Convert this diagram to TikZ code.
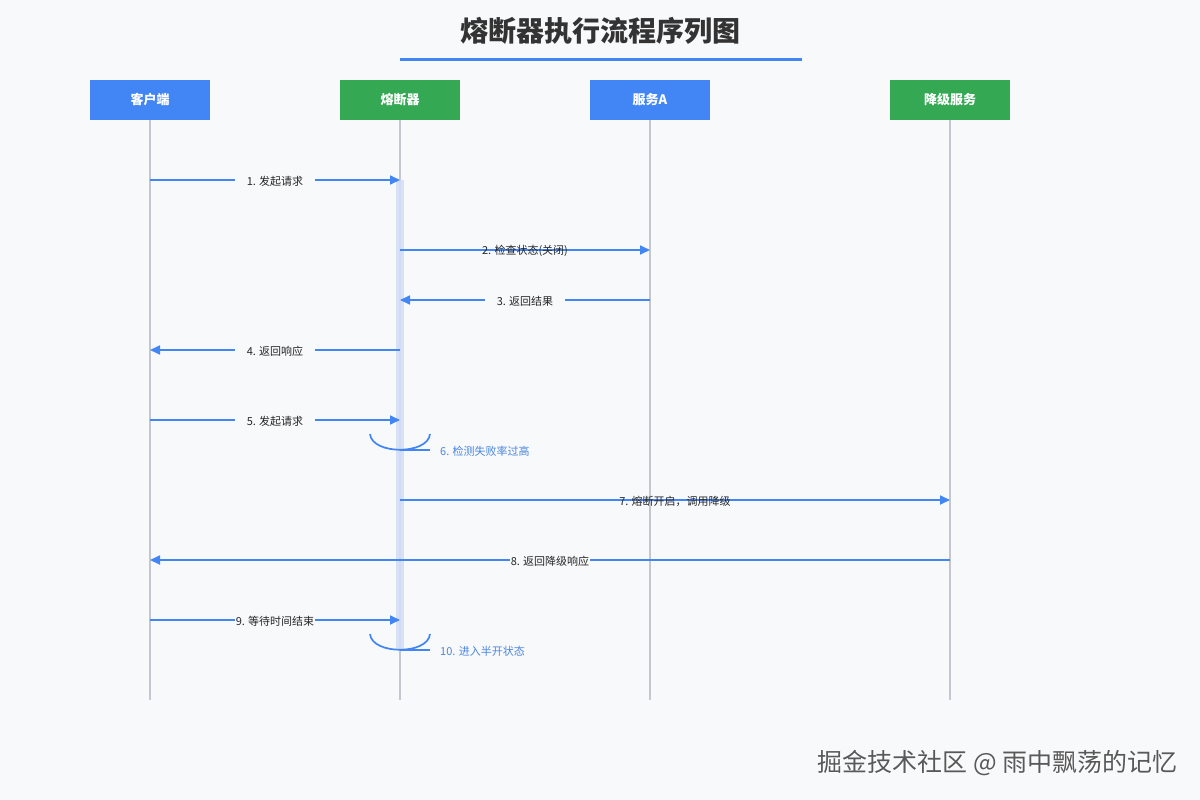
\documentclass[tikz,border=0pt]{standalone}
\usepackage{fontspec}
\setmainfont{Noto Sans CJK SC}
\usetikzlibrary{arrows.meta,calc}
\definecolor{bg}{HTML}{F8F9FB}
\definecolor{gblue}{HTML}{4285F4}
\definecolor{ggreen}{HTML}{34A853}
\definecolor{lgrey}{HTML}{C4C8CE}
\definecolor{actbar}{HTML}{D3DEF6}
\definecolor{titlec}{HTML}{333333}
\definecolor{notec}{HTML}{4A86E0}
\tikzset{
  actor/.style={minimum width=120pt,minimum height=40pt,inner sep=0pt,text=white,font=\fontsize{13}{15}\selectfont\bfseries},
  lifeline/.style={draw=lgrey,line width=2pt},
  msg/.style={draw=gblue,line width=1.7pt,-{Triangle[length=10pt,width=9pt]}},
  msglabel/.style={font=\fontsize{11}{12}\selectfont,text=black!85,fill=bg,inner sep=0pt,inner xsep=12pt,inner ysep=2pt,yshift=-1.5pt},
  msglabeltight/.style={font=\fontsize{11}{12}\selectfont,text=black!85,fill=bg,inner sep=1pt,yshift=-1pt},
  msglabelnofill/.style={font=\fontsize{11}{12}\selectfont,text=black!85,inner sep=0pt,yshift=-1pt},
  selfloop/.style={draw=gblue,line width=1.7pt},
  notelabel/.style={font=\fontsize{11}{12}\selectfont,text=notec,anchor=west,inner sep=0pt},
  watermark/.style={font=\fontsize{25}{28}\selectfont,anchor=east,inner sep=0pt}
}
\begin{document}
\begin{tikzpicture}[x=1pt,y=-1pt]
\useasboundingbox (0,0) rectangle (1200,800);
\fill[bg] (0,0) rectangle (1200,800);
% title
\node[font=\fontsize{28}{31}\selectfont\bfseries,text=titlec] (title) at (600,31) {熔断器执行流程序列图};
\coordinate (ulL) at (400,60);
\coordinate (ulR) at (802,60);
\draw[gblue,line width=3pt] (ulL) -- (ulR);
% actors
\node[actor,fill=gblue] (client) at (150,100) {客户端};
\node[actor,fill=ggreen] (cb) at (400,100) {熔断器};
\node[actor,fill=gblue] (svc) at (650,100) {服务A};
\node[actor,fill=ggreen] (fb) at (950,100) {降级服务};
% rows
\coordinate (rend) at (0,700);
\coordinate (r1) at (0,180);
\coordinate (r2) at (0,250);
\coordinate (r3) at (0,300);
\coordinate (r4) at (0,350);
\coordinate (r5) at (0,420);
\coordinate (r6) at (0,450);
\coordinate (r7) at (0,500);
\coordinate (r8) at (0,560);
\coordinate (r9) at (0,620);
\coordinate (r10) at (0,650);
% lifelines
\draw[lifeline] (client.south) -- (client.south |- rend);
\draw[lifeline] (cb.south) -- (cb.south |- rend);
\draw[lifeline] (svc.south) -- (svc.south |- rend);
\draw[lifeline] (fb.south) -- (fb.south |- rend);
% activation bar
\fill[actbar,opacity=0.9] ($(cb.south |- r1)+(-4,0)$) rectangle ($(cb.south |- r10)+(4,0)$);
% messages
\draw[msg] (client |- r1) -- node[msglabel] {1. 发起请求} (cb |- r1);
\draw[msg] (cb |- r2) -- node[msglabelnofill] {2. 检查状态(关闭)} (svc |- r2);
\draw[msg] (svc |- r3) -- node[msglabel] {3. 返回结果} (cb |- r3);
\draw[msg] (cb |- r4) -- node[msglabel] {4. 返回响应} (client |- r4);
\draw[msg] (client |- r5) -- node[msglabel] {5. 发起请求} (cb |- r5);
% self loop 6
\coordinate (s6a) at ($(cb |- r6)+(-30,-16)$);
\coordinate (s6b) at ($(cb |- r6)+(30,-16)$);
\coordinate (s6c) at ($(cb |- r6)+(30,0)$);
\draw[selfloop] (s6a) .. controls ($(s6a)+(2,21)$) and ($(s6b)+(-2,21)$) .. (s6b);
\draw[selfloop] (cb |- r6) -- (s6c);
\node[notelabel] (n6) at ($(s6c)+(10,1)$) {6. 检测失败率过高};
\draw[msg] (cb |- r7) -- node[msglabelnofill] {7. 熔断开启，调用降级} (fb |- r7);
\draw[msg] (fb |- r8) -- node[msglabeltight] {8. 返回降级响应} (client |- r8);
\draw[msg] (client |- r9) -- node[msglabeltight] {9. 等待时间结束} (cb |- r9);
% self loop 10
\coordinate (s10a) at ($(cb |- r10)+(-30,-16)$);
\coordinate (s10b) at ($(cb |- r10)+(30,-16)$);
\coordinate (s10c) at ($(cb |- r10)+(30,0)$);
\draw[selfloop] (s10a) .. controls ($(s10a)+(2,21)$) and ($(s10b)+(-2,21)$) .. (s10b);
\draw[selfloop] (cb |- r10) -- (s10c);
\node[notelabel] (n10) at ($(s10c)+(10,1)$) {10. 进入半开状态};
% watermark
\node[watermark,text=white] (wms) at (1179,764) {掘金技术社区 @ 雨中飘荡的记忆};
\node[watermark,text=black!65] (wm) at (1178,763) {掘金技术社区 @ 雨中飘荡的记忆};
\end{tikzpicture}
\end{document}
